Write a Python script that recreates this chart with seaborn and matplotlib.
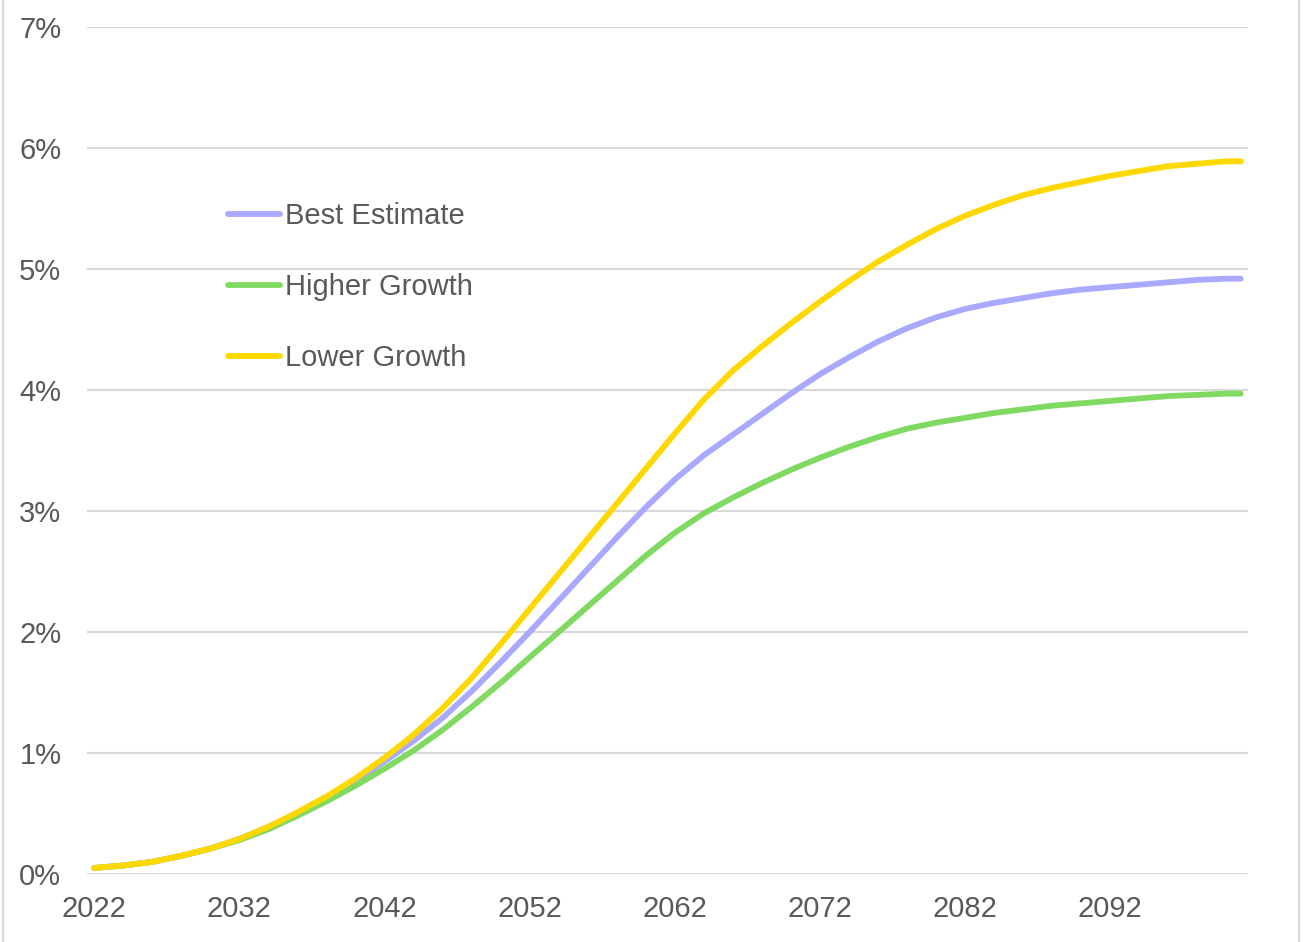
import matplotlib
matplotlib.use("Agg")
import matplotlib.pyplot as plt
from matplotlib.lines import Line2D
import pandas as pd
import seaborn as sns

# Projection years (every second year, plus the final year)
years = list(range(2022, 2101, 2)) + [2101]

# Scenario paths, in percent
best_estimate = [0.05, 0.07, 0.10, 0.15, 0.21, 0.29, 0.39, 0.50, 0.63, 0.77,
                 0.93, 1.10, 1.29, 1.51, 1.75, 2.00, 2.26, 2.52, 2.78, 3.03,
                 3.26, 3.46, 3.63, 3.80, 3.97, 4.13, 4.27, 4.40, 4.51, 4.60,
                 4.67, 4.72, 4.76, 4.80, 4.83, 4.85, 4.87, 4.89, 4.91, 4.92,
                 4.92]
higher_growth = [0.05, 0.07, 0.10, 0.15, 0.21, 0.28, 0.37, 0.48, 0.60, 0.73,
                 0.87, 1.02, 1.19, 1.38, 1.58, 1.79, 2.00, 2.21, 2.42, 2.63,
                 2.82, 2.98, 3.11, 3.23, 3.34, 3.44, 3.53, 3.61, 3.68, 3.73,
                 3.77, 3.81, 3.84, 3.87, 3.89, 3.91, 3.93, 3.95, 3.96, 3.97,
                 3.97]
lower_growth = [0.05, 0.07, 0.10, 0.15, 0.21, 0.29, 0.39, 0.51, 0.64, 0.79,
                0.96, 1.15, 1.37, 1.62, 1.90, 2.19, 2.48, 2.77, 3.06, 3.35,
                3.64, 3.92, 4.16, 4.36, 4.55, 4.73, 4.90, 5.06, 5.20, 5.33,
                5.44, 5.53, 5.61, 5.67, 5.72, 5.77, 5.81, 5.85, 5.87, 5.89,
                5.89]

series_names = ["Best Estimate", "Higher Growth", "Lower Growth"]
series_colors = ["#A9A9FF", "#80DA62", "#FFD800"]
x_tick_years = [2022, 2032, 2042, 2052, 2062, 2072, 2082, 2092]
y_ticks = [0, 1, 2, 3, 4, 5, 6, 7]

df = pd.DataFrame({
    "year": years * 3,
    "value": best_estimate + higher_growth + lower_growth,
    "scenario": [series_names[0]] * len(years)
              + [series_names[1]] * len(years)
              + [series_names[2]] * len(years),
})

sns.set_theme(style="white")
plt.rcParams["font.family"] = ["Liberation Sans", "DejaVu Sans"]

W, H = 1303, 942
fig = plt.figure(figsize=(W / 100, H / 100), dpi=100)
ax = fig.add_axes([87 / W, (H - 874) / H, (1248 - 87) / W, (874 - 27) / H])

sns.lineplot(data=df, x="year", y="value", hue="scenario",
             hue_order=series_names, palette=series_colors,
             linewidth=4.2, ax=ax, legend=False, zorder=3,
             solid_capstyle="round", solid_joinstyle="round")

ax.set_xlim(2021.5, 2101.5)
ax.set_ylim(0, 7)
ax.set_xticks(x_tick_years)
ax.set_xticklabels([str(y) for y in x_tick_years])
ax.set_yticks(y_ticks)
ax.set_yticklabels([f"{v}%" for v in y_ticks])
ax.set_xlabel("")
ax.set_ylabel("")

label_color = "#595959"
ax.tick_params(axis="both", length=0, labelsize=21, colors=label_color)
ax.tick_params(axis="x", pad=15)
ax.tick_params(axis="y", pad=18.5)

ax.grid(axis="y", color="#D9D9D9", linewidth=1.5)
ax.grid(axis="x", visible=False)
for side in ["top", "right", "left", "bottom"]:
    ax.spines[side].set_visible(False)
ax.set_axisbelow(True)

handles = [Line2D([0], [0], color=c, linewidth=4.2, solid_capstyle="round")
           for c in series_colors]
leg = ax.legend(handles, series_names, loc="upper left",
                bbox_to_anchor=(228 / W, 1 - 202 / H),
                bbox_transform=fig.transFigure, frameon=False,
                fontsize=21, handlelength=1.78, handletextpad=0.17,
                labelspacing=1.47, borderpad=0, borderaxespad=0)
for t in leg.get_texts():
    t.set_color(label_color)

# Thin frame edges on the left and right of the chart area
for xf in (2.5 / W, 1298.5 / W):
    fig.add_artist(Line2D([xf, xf], [0, 1], transform=fig.transFigure,
                          color="#D9D9D9", linewidth=1.5))

fig.savefig("out.png", dpi=100, facecolor="white")
